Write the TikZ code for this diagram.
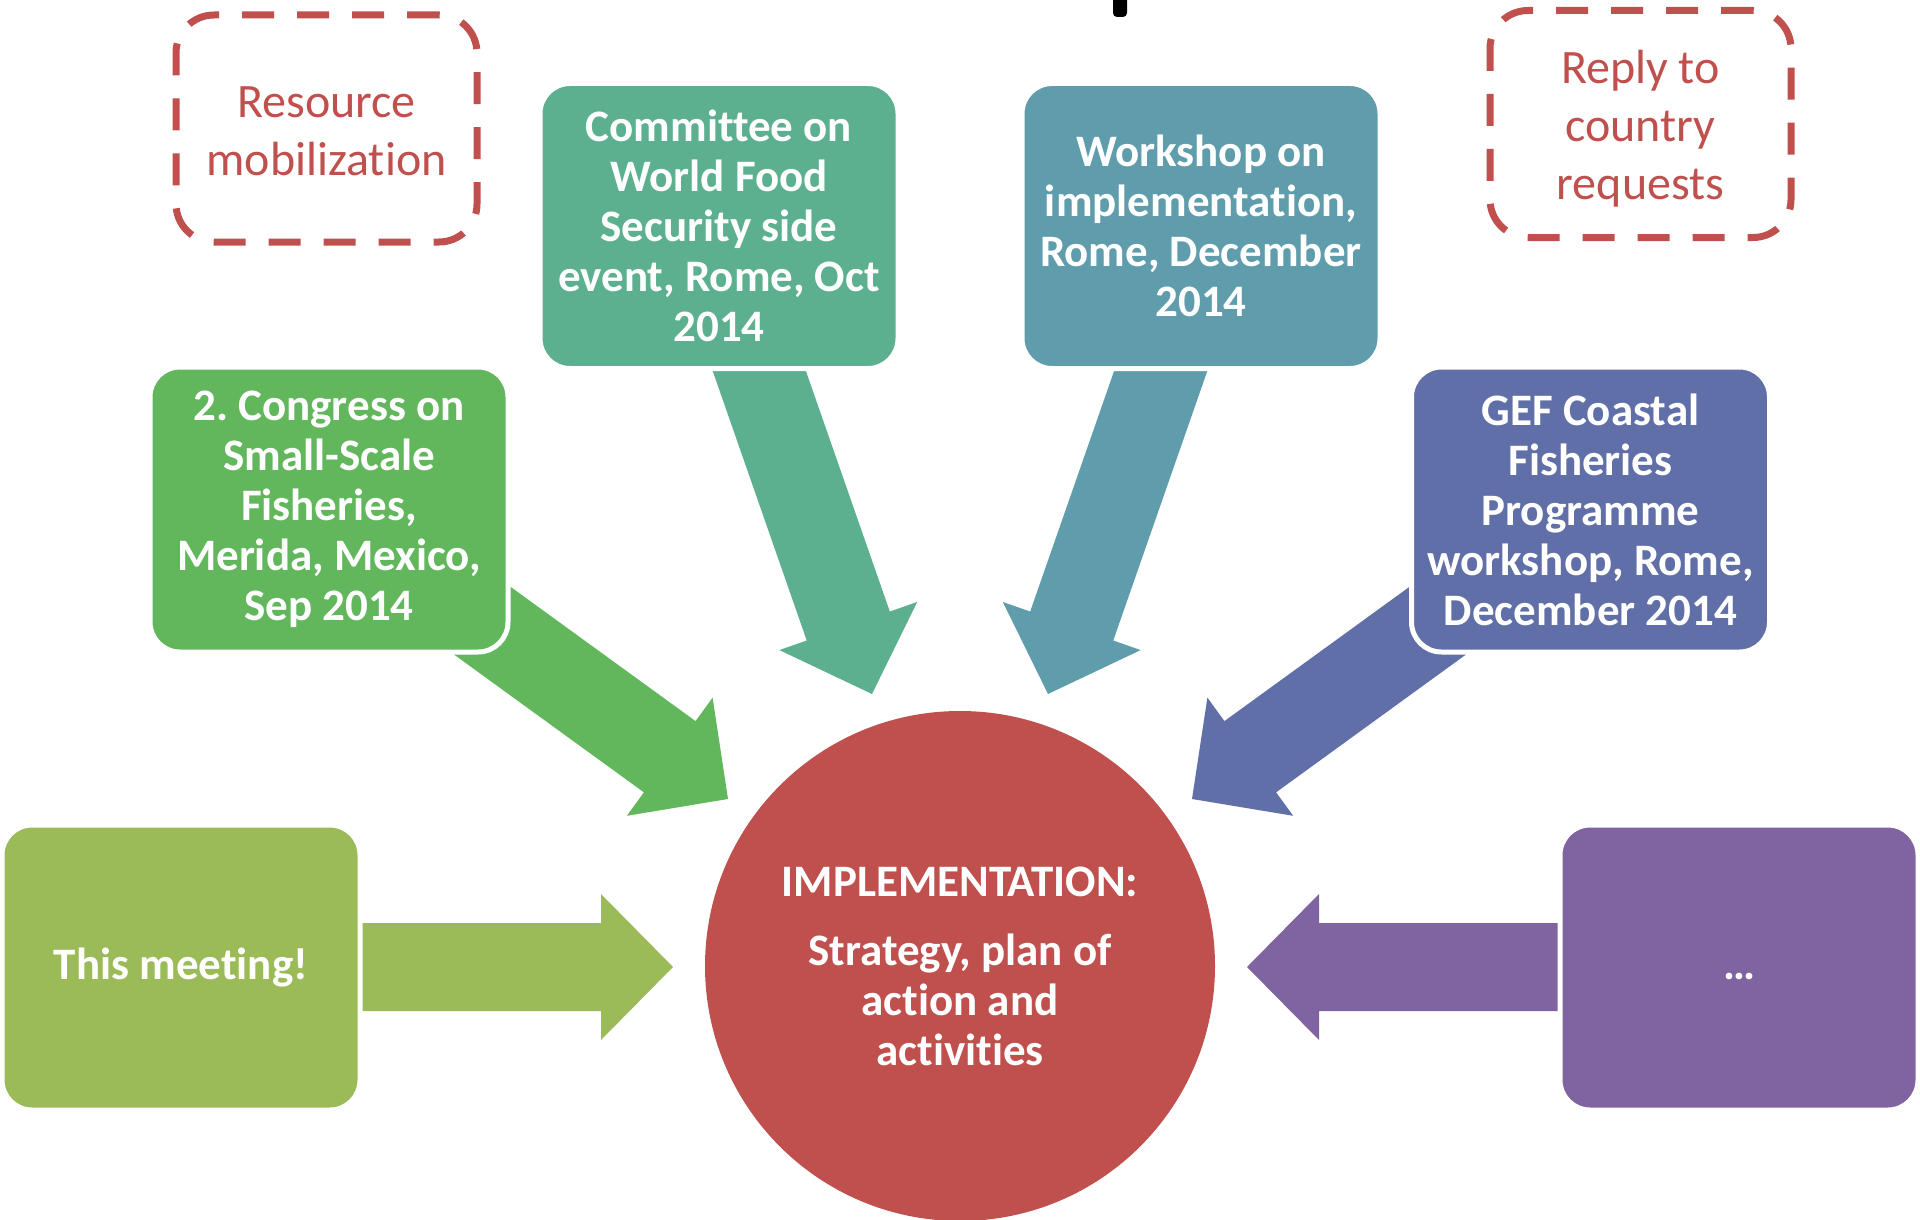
\documentclass[tikz,border=0pt]{standalone}
\usepackage{fontspec}
\setmainfont{Carlito}[Ligatures=NoCommon]
\frenchspacing
\usetikzlibrary{calc}
\definecolor{cred}{RGB}{192,80,77}
\definecolor{cgreen}{RGB}{98,183,92}
\definecolor{cteal}{RGB}{92,176,143}
\definecolor{cblue}{RGB}{95,156,172}
\definecolor{cindigo}{RGB}{97,111,168}
\definecolor{colive}{RGB}{155,187,89}
\definecolor{cpurple}{RGB}{128,100,162}
\newcommand\blockarrow[3]{%
  \path ($(#2)!72pt!(#1)$) coordinate (hb);
  \fill[#3] ($(#1)!44pt!90:(#2)$) -- ($(hb)!44pt!90:(#2)$) -- ($(hb)!73pt!90:(#2)$) -- (#2)
    -- ($(hb)!73pt!-90:(#2)$) -- ($(hb)!44pt!-90:(#2)$) -- ($(#1)!44pt!-90:(#2)$) -- cycle;
}
\tikzset{
  box/.style={rectangle, rounded corners=30pt, draw=white, line width=5pt, text=white,
    font=\bfseries\fontsize{45}{50}\selectfont, align=center, inner sep=0pt,
    minimum width=358pt, minimum height=285pt},
  dbox/.style={rectangle, rounded corners=38pt, draw=cred, line width=7pt,
    dash pattern=on 32pt off 23pt, inner sep=0pt, minimum width=301pt, minimum height=227pt},
  dtext/.style={text=cred, font=\fontsize{48}{58}\selectfont, align=center, inner sep=0pt},
}
\begin{document}
\begin{tikzpicture}[x=1pt,y=-1pt]
\useasboundingbox (0,0) rectangle (1920,1220);
% stray mark at top
\fill[black, rounded corners=4pt] (1113,-10) rectangle (1127,17);
% arrow coordinates
\coordinate (gs) at (440,590);  \coordinate (gt) at (728,799);
\coordinate (ts) at (745,330);  \coordinate (tt) at (872,694);
\coordinate (ws) at (1175,330); \coordinate (wt) at (1048,694);
\coordinate (es) at (1480,590); \coordinate (et) at (1192,799);
\coordinate (os) at (330,967);  \coordinate (ot) at (673,967);
\coordinate (ps) at (1590,967); \coordinate (pt) at (1247,967);
\blockarrow{gs}{gt}{cgreen}
\blockarrow{ts}{tt}{cteal}
\blockarrow{ws}{wt}{cblue}
\blockarrow{es}{et}{cindigo}
\blockarrow{os}{ot}{colive}
\blockarrow{ps}{pt}{cpurple}
% dashed boxes
\node[dbox] (res) at (326.5,128.5) {};
\node[dtext] (rest) at (326.5,131.5) {Resource\\mobilization};
\node[dbox] (rep) at (1640.5,124) {};
\node[dtext] (rept) at (1640.5,129) {Reply to\\country\\requests};
% boxes
\node[box, fill=cteal] (cfs) at (719,226) {Committee on\\World Food\\Security side\\event, Rome, Oct\\2014};
\node[box, fill=cblue] (wsh) at (1201,226) {Workshop on\\implementation,\\Rome, December\\2014};
\node[box, fill=cgreen] (con) at (329,509.5) {2. Congress on\\Small-Scale\\Fisheries,\\Merida, Mexico,\\Sep 2014};
\node[box, fill=cindigo] (gef) at (1590.5,509.5) {GEF Coastal\\Fisheries\\Programme\\workshop, Rome,\\December 2014};
\node[box, fill=colive] (meet) at (181,967.5) {This meeting!};
\node[box, fill=cpurple] (dots) at (1739,967.5) {\vphantom{Thg}…};
% circle
\node[circle, fill=cred, minimum size=510pt, inner sep=0pt, text=white, align=center,
  font=\bfseries\fontsize{45}{50}\selectfont] (impl) at (960,966)
  {IMPLEMENTATION:\\[19pt]Strategy, plan of\\action and\\activities};
\end{tikzpicture}
\end{document}
